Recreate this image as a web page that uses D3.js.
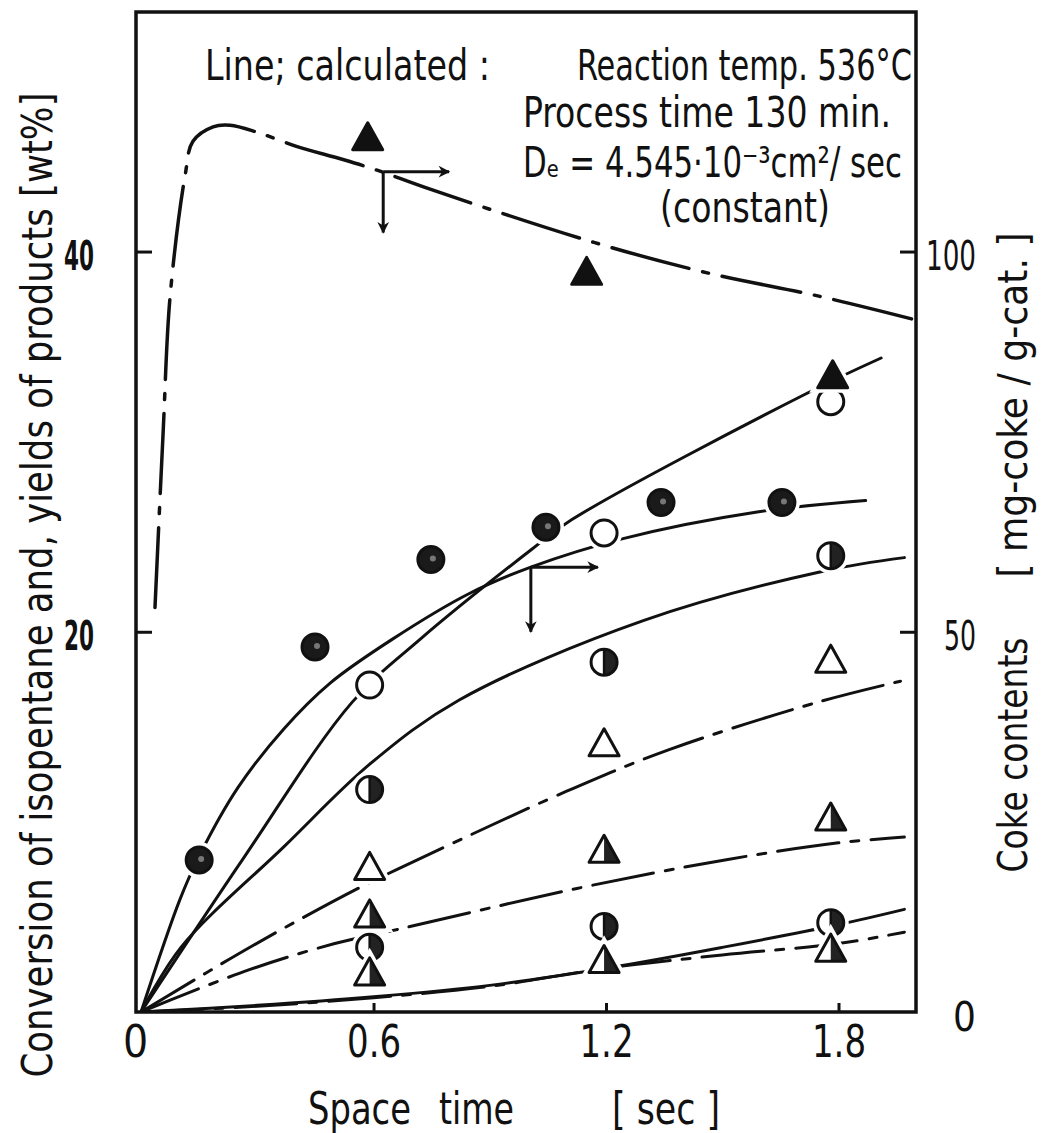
<!DOCTYPE html>
<html>
<head>
<meta charset="utf-8">
<script src="https://cdn.jsdelivr.net/npm/d3@7"></script>
<style>
  body { margin: 0; background: #fff; }
  text { font-family: "Liberation Sans Narrow", "DejaVu Sans Condensed", "Arial Narrow", sans-serif; fill: #111; }
</style>
</head>
<body>
<div id="my_dataviz"></div>
<script>

// axis ticks
const xTicks = [0, 0.6, 1.2, 1.8];
const yLeftTicks = [20, 40];
const yRightTicks = [0, 50, 100];

// measured points (left axis, wt%)
const filledCircles = [[0.15, 8.0], [0.449, 19.2], [0.748, 23.8], [1.045, 25.5], [1.342, 26.8], [1.654, 26.8]];
const openCircles = [[0.59, 17.2], [1.195, 25.2], [1.78, 32.1]];
const halfCirclesUpper = [[0.59, 11.7], [1.195, 18.4], [1.78, 24.0]];
const halfCirclesLower = [[0.59, 3.4], [1.195, 4.5], [1.78, 4.7]];
const openTriangles = [[0.59, 7.5], [1.195, 14.0], [1.78, 18.4]];
const halfTriangles = [[0.59, 5.0], [1.195, 8.4], [1.78, 10.1]];
const lowTriangles = [[0.59, 1.95], [1.195, 2.6], [1.78, 3.2]];

// coke contents (right axis, mg-coke / g-cat)
const cokeTriangles = [[0.585, 114.7], [1.15, 97.0], [1.785, 83.4]];

// calculated lines
const cokeLine = [[0.036, 53.2], [0.057, 76.2], [0.075, 94.1], [0.114, 110.1], [0.134, 114.5], [0.186, 116.4], [0.23, 116.6],
                  [0.299, 115.7], [0.403, 113.8], [0.521, 112.1], [0.609, 110.7], [0.746, 108.2], [1.169, 101.2],
                  [1.461, 97.2], [1.752, 94.1], [1.992, 91.1]];
const conversionLine = [[0, 0], [0.1, 5.9], [0.15, 8.2], [0.25, 11.8], [0.369, 14.9], [0.488, 17.3], [0.648, 19.6],
                        [0.846, 22.0], [1.006, 23.4], [1.244, 24.9], [1.59, 26.3], [1.87, 26.9]];
const openCircleLine = [[0, 0], [0.268, 8.2], [0.545, 16.3], [0.72, 19.6], [1.006, 24.3], [1.112, 25.9], [1.724, 32.6], [1.91, 34.4]];
const halfCircleUpperLine = [[0, 0], [0.103, 3.4], [0.369, 8.7], [0.594, 13.1], [0.82, 16.4], [1.298, 20.6], [1.763, 23.2], [1.97, 23.9]];
const openTriangleLine = [[0, 0], [0.289, 3.5], [0.56, 6.5], [0.661, 7.5], [1.097, 11.6], [1.363, 13.8], [1.747, 16.3], [1.96, 17.4]];
const halfTriangleLine = [[0, 0], [0.276, 2.2], [0.5, 3.6], [0.674, 4.4], [1.125, 6.5], [1.507, 8.0], [1.8, 8.9], [1.97, 9.2]];
const halfCircleLowerLine = [[0, 0], [0.3, 0.35], [0.6, 0.8], [0.9, 1.4], [1.2, 2.3], [1.5, 3.4], [1.8, 4.6], [1.97, 5.4]];
const lowTriangleLine = [[0, 0], [0.3, 0.3], [0.6, 0.75], [0.9, 1.35], [1.2, 2.3], [1.5, 3.0], [1.8, 3.6], [1.97, 4.2]];

// "which axis" arrows: start x, start y (left units), end x of right arrow, end y of down arrow
const arrowX = [0.625, 1.006];
const arrowY = [44.2, 23.4];
const arrowXEnd = [0.795, 1.179];
const arrowYEnd = [41.0, 20.0];


function chart() {

    let margin = {top: 12, right: 125, bottom: 121, left: 136},
        width = 1041 - margin.left - margin.right,
        height = 1133 - margin.top - margin.bottom;

    let svg = d3.select("#my_dataviz")
                .append("svg")
                .attr("width", width + margin.left + margin.right)
                .attr("height", height + margin.top + margin.bottom);

    let defs = svg.append("defs");

    defs.append("clipPath").attr("id", "plotclip")
        .append("rect").attr("width", width).attr("height", height);

    defs.append("marker")
        .attr("id", "arrowhead")
        .attr("viewBox", "-6 -6 12 12")
        .attr("markerWidth", 14).attr("markerHeight", 14)
        .attr("markerUnits", "userSpaceOnUse")
        .attr("orient", "auto")
        .attr("refX", 4).attr("refY", 0)
        .append("path")
        .attr("d", "M -5,-5 L 5,0 L -5,5 L -2,0 Z")
        .attr("fill", "#111");

    let g = svg.append("g")
               .attr("transform", "translate(" + margin.left + "," + margin.top + ")");

    let x = d3.scaleLinear().domain([-0.013, 2.0]).range([0, width]);
    let yL = d3.scaleLinear().domain([0, 52.6]).range([height, 0]);
    let yR = d3.scaleLinear().domain([0, 131.5]).range([height, 0]);

    // bottom axis
    let xAxis = g.append("g")
        .attr("transform", "translate(0," + height + ")")
        .call(d3.axisBottom(x).tickValues(xTicks).tickSize(-9).tickSizeOuter(0).tickPadding(14)
              .tickFormat(d => d === 0 ? "0" : d3.format(".1f")(d)));
    xAxis.select(".domain").remove();
    xAxis.selectAll("line").attr("stroke", "#111").attr("stroke-width", 3)
         .attr("display", d => d === 0 ? "none" : null);
    xAxis.selectAll("text").attr("font-size", 44).attr("fill", "#111")
         .attr("font-family", null)
         .attr("dx", d => d === 0 ? -6 : 0)
         .attr("textLength", d => d === 0 ? null : 54)
         .attr("lengthAdjust", "spacingAndGlyphs");

    // left axis
    let yAxisL = g.append("g")
        .call(d3.axisLeft(yL).tickValues(yLeftTicks).tickSize(-16).tickSizeOuter(0).tickPadding(42));
    yAxisL.select(".domain").remove();
    yAxisL.selectAll("line").attr("stroke", "#111").attr("stroke-width", 3);
    yAxisL.selectAll("text").attr("font-size", 40).attr("dy", "0.45em").attr("fill", "#111")
          .attr("font-family", "Liberation Sans, Arial, sans-serif").attr("font-weight", "bold")
          .attr("textLength", 30).attr("lengthAdjust", "spacingAndGlyphs");

    // right axis
    let yAxisR = g.append("g")
        .attr("transform", "translate(" + width + ",0)")
        .call(d3.axisRight(yR).tickValues(yRightTicks).tickSize(-16).tickSizeOuter(0).tickPadding(60));
    yAxisR.select(".domain").remove();
    yAxisR.selectAll("line").attr("stroke", "#111").attr("stroke-width", 3)
          .attr("display", d => d === 0 ? "none" : null);
    yAxisR.selectAll("text").attr("font-size", 40).attr("text-anchor", "end").attr("dy", "0.45em")
          .attr("fill", "#111").attr("font-family", "DejaVu Sans Condensed, sans-serif")
          .attr("textLength", d => d === 100 ? 50 : (d === 50 ? 32 : null))
          .attr("lengthAdjust", "spacingAndGlyphs");

    // frame
    g.append("rect")
        .attr("width", width).attr("height", height)
        .attr("fill", "none").attr("stroke", "#111").attr("stroke-width", 3.5);

    // calculated lines
    let lineL = d3.line().x(d => x(d[0])).y(d => yL(d[1])).curve(d3.curveCatmullRom.alpha(0.5));
    let lineR = d3.line().x(d => x(d[0])).y(d => yR(d[1])).curve(d3.curveCatmullRom.alpha(0.5));

    let dashDot = "62,12,8,12";
    let lines = [
        {data: conversionLine, dash: null},
        {data: openCircleLine, dash: null},
        {data: halfCircleUpperLine, dash: null},
        {data: openTriangleLine, dash: dashDot},
        {data: halfTriangleLine, dash: dashDot},
        {data: halfCircleLowerLine, dash: null},
        {data: lowTriangleLine, dash: dashDot}
    ];

    let paths = g.append("g").attr("clip-path", "url(#plotclip)");

    paths.selectAll(".calc")
        .data(lines)
        .enter().append("path")
        .attr("class", "calc")
        .attr("d", d => lineL(d.data))
        .attr("fill", "none")
        .attr("stroke", "#111")
        .attr("stroke-width", 3)
        .attr("stroke-linecap", "round")
        .attr("stroke-dasharray", d => d.dash);

    paths.append("path")
        .attr("d", lineR(cokeLine))
        .attr("fill", "none")
        .attr("stroke", "#111")
        .attr("stroke-width", 3.5)
        .attr("stroke-linecap", "round")
        .attr("stroke-dasharray", "80,14,6,14");

    // arrows pointing to the axis each line belongs to
    arrowX.forEach((ax, i) => {
        g.append("line")
            .attr("x1", x(ax)).attr("y1", yL(arrowY[i]))
            .attr("x2", x(arrowXEnd[i])).attr("y2", yL(arrowY[i]))
            .attr("stroke", "#111").attr("stroke-width", 3)
            .attr("marker-end", "url(#arrowhead)");
        g.append("line")
            .attr("x1", x(ax)).attr("y1", yL(arrowY[i]))
            .attr("x2", x(ax)).attr("y2", yL(arrowYEnd[i]))
            .attr("stroke", "#111").attr("stroke-width", 3)
            .attr("marker-end", "url(#arrowhead)");
    });

    // marker shapes
    let tri = "M 0,-17 L 15,10 L -15,10 Z";
    let triHalf = "M 0,-17 L 15,10 L 0,10 Z";
    let circHalf = "M 0,-13 A 13,13 0 0,1 0,13 Z";

    function addMarkers(data, scale, kind) {
        let m = g.append("g").selectAll("g")
            .data(data)
            .enter().append("g")
            .attr("transform", d => "translate(" + x(d[0]) + "," + scale(d[1]) + ")");

        let isTri = kind.indexOf("Tri") >= 0;

        // white halo so lines break around the marks
        if (isTri) {
            m.append("path").attr("d", tri).attr("fill", "#fff").attr("stroke", "#fff").attr("stroke-width", 10);
        } else {
            m.append("circle").attr("r", 13).attr("fill", "#fff").attr("stroke", "#fff").attr("stroke-width", 10);
        }

        if (kind === "filledCircle") {
            m.append("circle").attr("r", 13).attr("fill", "#1a1a1a").attr("stroke", "#111").attr("stroke-width", 3);
            m.append("circle").attr("r", 3).attr("cx", 2).attr("cy", -1).attr("fill", "#777");
        } else if (kind === "openCircle") {
            m.append("circle").attr("r", 13).attr("fill", "#fff").attr("stroke", "#111").attr("stroke-width", 3);
        } else if (kind === "halfCircle") {
            m.append("path").attr("d", circHalf).attr("fill", "#222");
            m.append("circle").attr("r", 13).attr("fill", "none").attr("stroke", "#111").attr("stroke-width", 3);
            m.append("line").attr("x1", 0).attr("x2", 0).attr("y1", -13).attr("y2", 13)
                .attr("stroke", "#111").attr("stroke-width", 2.5);
        } else if (kind === "openTri") {
            m.append("path").attr("d", tri).attr("fill", "#fff").attr("stroke", "#111")
                .attr("stroke-width", 3).attr("stroke-linejoin", "round");
        } else if (kind === "halfTri") {
            m.append("path").attr("d", triHalf).attr("fill", "#222");
            m.append("path").attr("d", tri).attr("fill", "none").attr("stroke", "#111")
                .attr("stroke-width", 3).attr("stroke-linejoin", "round");
        } else if (kind === "solidTri") {
            m.append("path").attr("d", tri).attr("fill", "#111").attr("stroke", "#111")
                .attr("stroke-width", 3).attr("stroke-linejoin", "round");
        }
    }

    addMarkers(filledCircles, yL, "filledCircle");
    addMarkers(openCircles, yL, "openCircle");
    addMarkers(halfCirclesUpper, yL, "halfCircle");
    addMarkers(halfCirclesLower, yL, "halfCircle");
    addMarkers(openTriangles, yL, "openTri");
    addMarkers(halfTriangles, yL, "halfTri");
    addMarkers(lowTriangles, yL, "halfTri");
    addMarkers(cokeTriangles, yR, "solidTri");

    // notes in the top of the plot, each line one text squeezed to its width
    function note(txt, xp, yp, size, len) {
        let t = svg.append("text").attr("x", xp).attr("y", yp).attr("font-size", size).text(txt);
        if (len) t.attr("textLength", len).attr("lengthAdjust", "spacingAndGlyphs");
        return t;
    }
    note("Line; calculated :", 205, 80, 42, 285);
    note("Reaction temp. 536°C", 577, 80, 42, 335);
    note("Process time 130 min.", 523, 127, 42, 368);
    note("Dₑ = 4.545·10⁻³cm²/ sec", 523, 177, 42, 379);
    note("(constant)", 660, 222, 42, 170);

    // axis titles
    note("Space", 308, 1124, 44, 103);
    note("time", 439, 1124, 44, 75);
    note("[ sec ]", 612, 1124, 44, 108);

    svg.append("text")
        .attr("transform", "translate(52,585) rotate(-90)")
        .attr("text-anchor", "middle")
        .attr("font-size", 42)
        .attr("textLength", 985).attr("lengthAdjust", "spacingAndGlyphs")
        .text("Conversion of isopentane and, yields of products [wt%]");

    svg.append("text")
        .attr("transform", "translate(1027,755) rotate(-90)")
        .attr("text-anchor", "middle")
        .attr("font-size", 40)
        .attr("textLength", 235).attr("lengthAdjust", "spacingAndGlyphs")
        .text("Coke contents");
    svg.append("text")
        .attr("transform", "translate(1027,405) rotate(-90)")
        .attr("text-anchor", "middle")
        .attr("font-size", 40)
        .attr("textLength", 345).attr("lengthAdjust", "spacingAndGlyphs")
        .text("[ mg-coke / g-cat. ]");
}

chart();
</script>
</body>
</html>
